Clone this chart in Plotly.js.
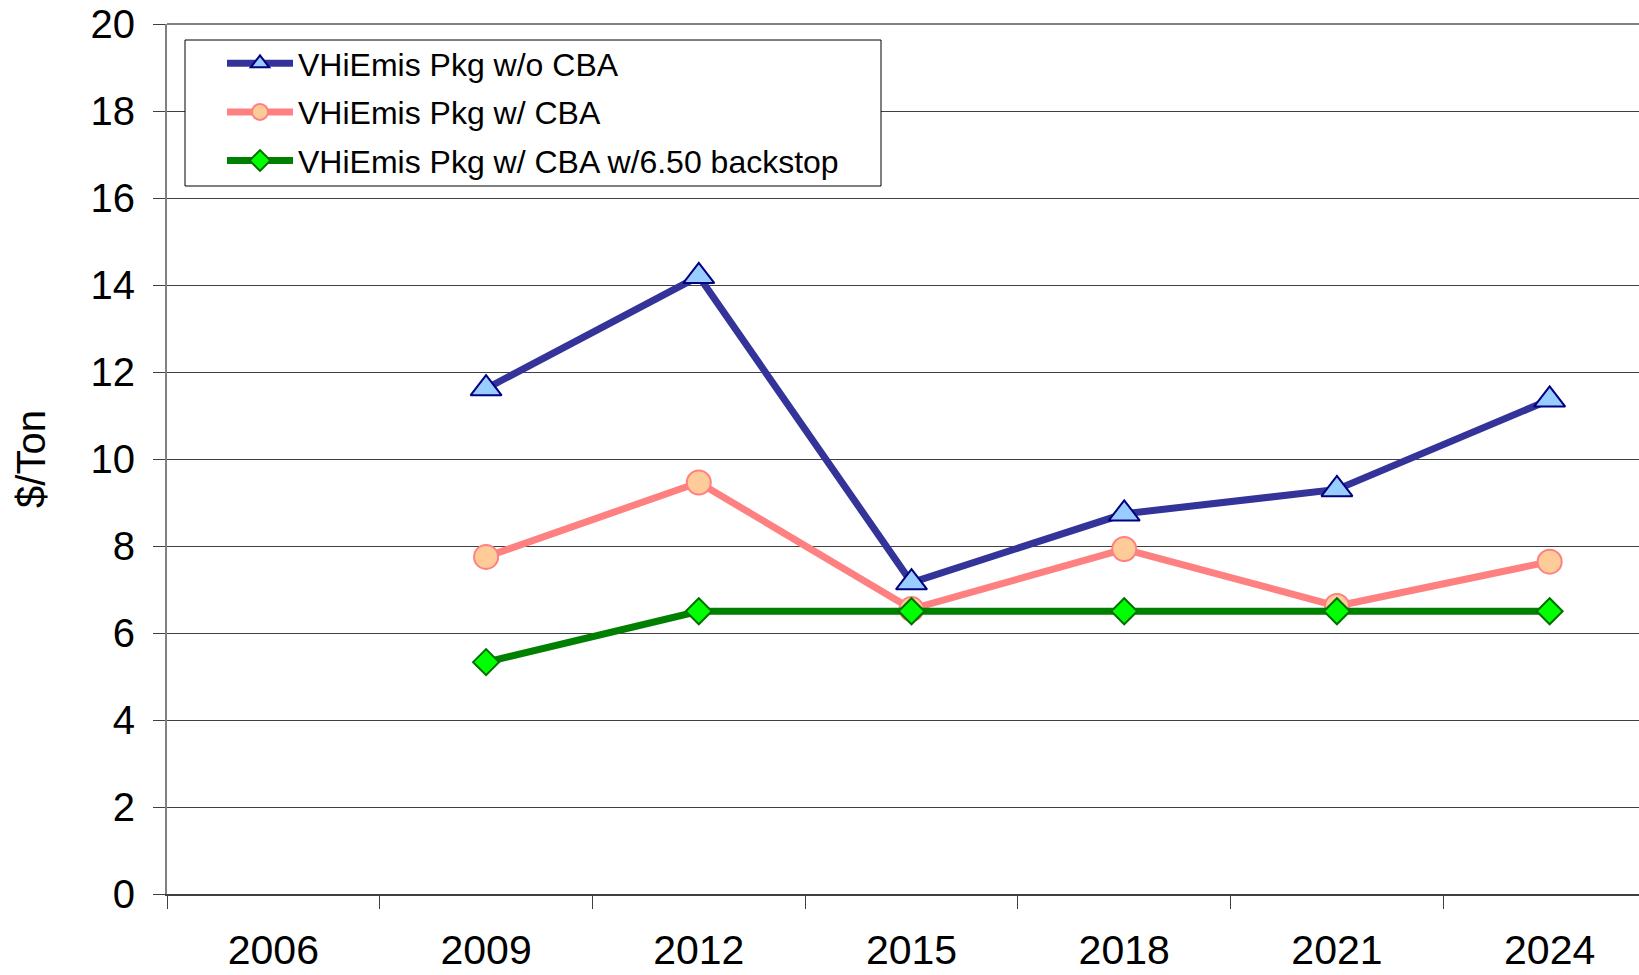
<!DOCTYPE html>
<html>
<head>
<meta charset="utf-8">
<script src="https://cdn.plot.ly/plotly-3.0.1.min.js"></script>
<style>
  html, body { margin: 0; padding: 0; background: #fff; }
  #chart { width: 1639px; height: 975px; }
</style>
</head>
<body>
<div id="chart"></div>
<script>
const years = ['2006', '2009', '2012', '2015', '2018', '2021', '2024'];
const seriesNames = ['VHiEmis Pkg w/o CBA', 'VHiEmis Pkg w/ CBA', 'VHiEmis Pkg w/ CBA w/6.50 backstop'];
const noCBA = [null, 11.62, 14.2, 7.16, 8.74, 9.3, 11.36];
const withCBA = [null, 7.75, 9.46, 6.55, 7.93, 6.62, 7.64];
const backstop = [null, 5.33, 6.5, 6.5, 6.5, 6.5, 6.5];
const yTicks = [0, 2, 4, 6, 8, 10, 12, 14, 16, 18, 20];

const W = 1639, H = 975;
const mL = 167, mR = 0, mT = 24, mB = 81;
const plotW = W - mL - mR, plotH = H - mT - mB;
const px2x = p => (p - mL) / plotW;
const px2y = p => (H - mB - p) / plotH;

const font = 'Liberation Sans, Arial, Helvetica, sans-serif';

const traces = [
  {
    x: years, y: noCBA, name: seriesNames[0], type: 'scatter', mode: 'lines+markers',
    legendgroup: 'a',
    line: { color: '#333399', width: 7 },
    marker: { symbol: 'triangle-up', size: 27, color: '#99CCFF', line: { color: '#000080', width: 2 } }
  },
  {
    x: years, y: withCBA, name: seriesNames[1], type: 'scatter', mode: 'lines+markers',
    legendgroup: 'b',
    line: { color: '#FF8080', width: 7 },
    marker: { symbol: 'circle', size: 24, color: '#FFCC99', line: { color: '#FF8080', width: 2 } }
  },
  {
    x: years, y: backstop, name: seriesNames[2], type: 'scatter', mode: 'lines+markers',
    legendgroup: 'c',
    line: { color: '#008000', width: 7 },
    marker: { symbol: 'diamond', size: 20, color: '#00FF00', line: { color: '#007000', width: 2 } }
  }
];

const layout = {
  width: W, height: H,
  margin: { l: mL, r: mR, t: mT, b: mB, pad: 0 },
  paper_bgcolor: '#ffffff', plot_bgcolor: '#ffffff',
  font: { family: font, color: '#000000' },
  showlegend: true,
  legend: {
    x: px2x(222), y: px2y(36), xanchor: 'left', yanchor: 'top',
    bgcolor: 'rgba(0,0,0,0)', borderwidth: 0,
    font: { family: font, size: 32, color: '#000000' },
    itemwidth: 66, traceorder: 'grouped', tracegroupgap: 4
  },
  xaxis: {
    type: 'category', categoryorder: 'array', categoryarray: years,
    range: [-0.5, 6.42],
    tickson: 'boundaries', ticks: 'outside', ticklen: 13, tickwidth: 1, tickcolor: '#404040',
    showgrid: false, zeroline: false,
    showline: true, linecolor: '#404040', linewidth: 2,
    tickfont: { family: font, size: 41, color: '#000000' },
    ticklabelstandoff: 19,
    fixedrange: true
  },
  yaxis: {
    range: [0, 20], tickmode: 'array', tickvals: yTicks, ticktext: yTicks.map(String),
    ticks: 'outside', ticklen: 12, tickwidth: 1, tickcolor: '#404040',
    showgrid: true, gridcolor: '#404040', gridwidth: 1,
    zeroline: false,
    showline: true, linecolor: '#808080', linewidth: 2,
    tickfont: { family: font, size: 40, color: '#000000' },
    ticklabelstandoff: 10,
    title: { text: '$/Ton', font: { family: font, size: 40, color: '#000000' }, standoff: 33 },
    automargin: false,
    fixedrange: true
  },
  shapes: [
    { type: 'line', xref: 'paper', yref: 'paper', x0: 0, x1: 1, y0: 1, y1: 1,
      line: { color: '#808080', width: 2 }, layer: 'above' },
    { type: 'rect', xref: 'paper', yref: 'paper',
      x0: px2x(185), x1: px2x(881), y0: px2y(186), y1: px2y(40),
      fillcolor: '#ffffff', line: { color: '#000000', width: 1 }, layer: 'above' }
  ]
};

Plotly.newPlot('chart', traces, layout, { displayModeBar: false, staticPlot: true });
</script>
</body>
</html>
